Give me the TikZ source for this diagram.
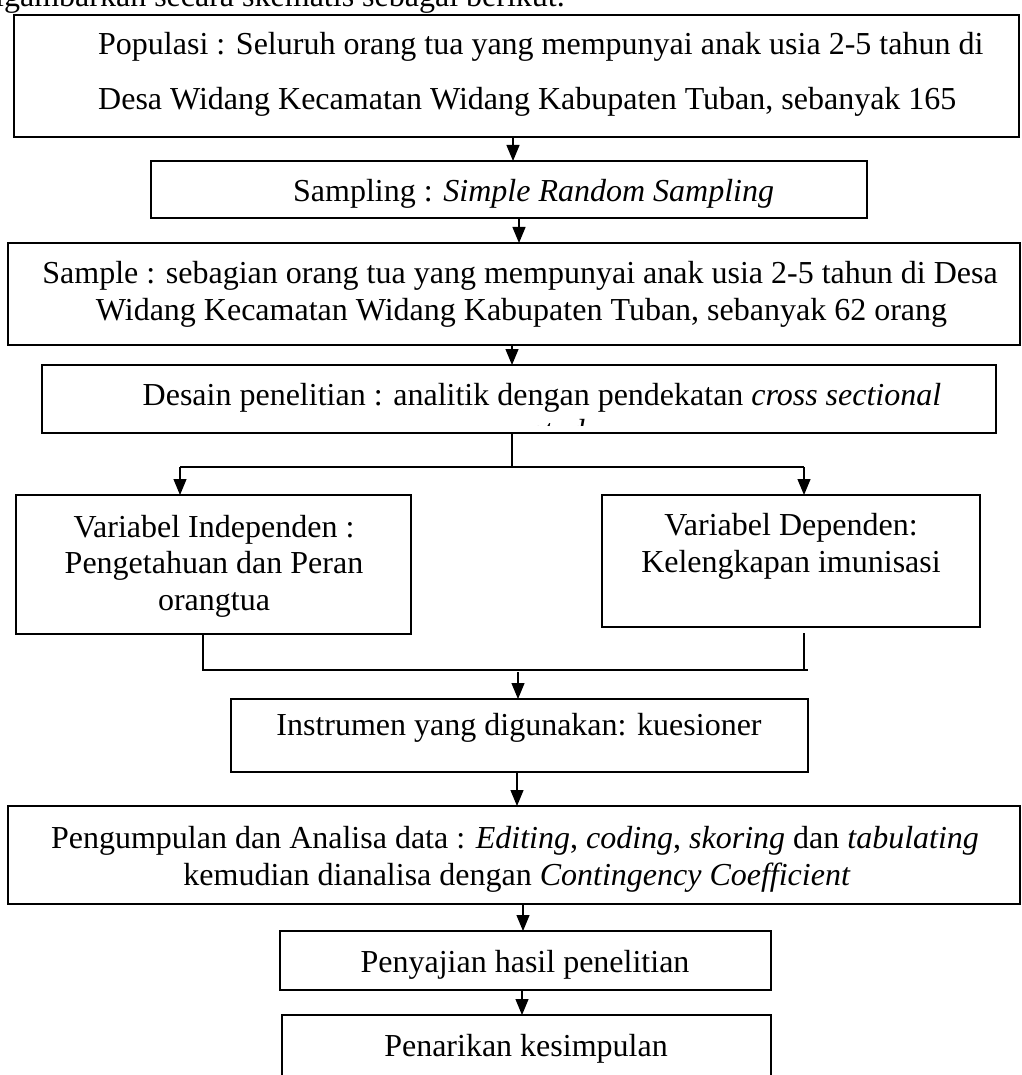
\documentclass[tikz,border=0pt]{standalone}
\usepackage{fontspec}
\setmainfont{Liberation Serif}
\usetikzlibrary{arrows.meta}
\begin{document}
\begin{tikzpicture}[x=1pt,y=-1pt,
  box/.style={draw, line width=1.3pt, rectangle, inner sep=0pt, outer sep=0pt, anchor=north west},
  txt/.style={inner sep=0pt, anchor=base, font=\fontsize{32}{38}\selectfont},
  conn/.style={line width=1.2pt},
  arr/.style={conn, -{Triangle[width=13pt,length=16pt]}}]
\useasboundingbox (0,0) rectangle (1021,1075);

% top running text (cut off by the page)
\begin{scope}
  \clip (0,0) rectangle (1021,13);
  \node[txt, anchor=base west] (intro) at (-21,7) {digambarkan secara skematis sebagai berikut.};
\end{scope}

% boxes
\node[box, minimum width=1005pt, minimum height=122pt] (pop) at (14,15) {};
\node[box, minimum width=716pt, minimum height=57pt] (smp) at (151,161) {};
\node[box, minimum width=1012pt, minimum height=102pt] (sam) at (8,243) {};
\node[box, minimum width=954pt, minimum height=68pt] (des) at (42,365) {};
\node[box, minimum width=395pt, minimum height=139pt] (ind) at (16,495) {};
\node[box, minimum width=378pt, minimum height=132pt] (dep) at (602,495) {};
\node[box, minimum width=577pt, minimum height=73pt] (ins) at (231,699) {};
\node[box, minimum width=1012pt, minimum height=98pt] (peng) at (8,806) {};
\node[box, minimum width=491pt, minimum height=59pt] (saji) at (280,931) {};
\node[box, minimum width=489pt, minimum height=80pt] (tarik) at (282,1015) {};

% texts
\node[txt, anchor=base west] (t1a) at (98,55) {Populasi : Seluruh orang tua yang mempunyai anak usia 2-5 tahun di};
\node[txt, anchor=base west] (t1b) at (98,110) {Desa Widang Kecamatan Widang Kabupaten Tuban, sebanyak 165};
\node[txt, anchor=base west] (t2) at (293,202) {Sampling : \textit{Simple Random Sampling}};
\node[txt] (t3a) at (520,283) {Sample : sebagian orang tua yang mempunyai anak usia 2-5 tahun di Desa};
\node[txt] (t3b) at (521.5,320) {Widang Kecamatan Widang Kabupaten Tuban, sebanyak 62 orang};
\node[txt] (t4a) at (542,405) {Desain penelitian : analitik dengan pendekatan \textit{cross sectional}};
\begin{scope}
  \clip (43,366) rectangle (995,425);
  \node[txt] (t4b) at (565,441) {\textit{study}};
\end{scope}
\node[txt] (t5a) at (214,537) {Variabel Independen :};
\node[txt] (t5b) at (214,573) {Pengetahuan dan Peran};
\node[txt] (t5c) at (214,610) {orangtua};
\node[txt] (t6a) at (791,535) {Variabel Dependen:};
\node[txt] (t6b) at (791,572) {Kelengkapan imunisasi};
\node[txt] (t7) at (519,735) {Instrumen yang digunakan: kuesioner};
\node[txt] (t8a) at (515,848) {Pengumpulan dan Analisa data : \textit{Editing}, \textit{coding}, \textit{skoring} dan \textit{tabulating}};
\node[txt] (t8b) at (517,885) {kemudian dianalisa dengan \textit{Contingency Coefficient}};
\node[txt] (t9) at (525,972) {Penyajian hasil penelitian};
\node[txt] (t10) at (526,1056) {Penarikan kesimpulan};

% connector x positions
\coordinate (x1) at (513,0);
\coordinate (x2) at (519,0);
\coordinate (x3) at (512,0);
\coordinate (xl) at (180,0);
\coordinate (xr) at (804,0);
\coordinate (yl) at (0,467);
\coordinate (xlb) at (203,0);
\coordinate (xrb) at (804,0);
\coordinate (ylb) at (0,670);
\coordinate (xrbe) at (808,0);
\coordinate (x4) at (518,0);
\coordinate (x5) at (517,0);
\coordinate (x6) at (523,0);
\coordinate (x7) at (522,0);

% connectors
\draw[arr] (pop.south -| x1) -- (smp.north -| x1);
\draw[arr] (smp.south -| x2) -- (sam.north -| x2);
\draw[arr] (sam.south -| x3) -- (des.north -| x3);
\draw[conn] (des.south -| x3) -- (yl -| x3);
\draw[conn] (yl -| xl) -- (yl -| xr);
\draw[arr] (yl -| xl) -- (ind.north -| xl);
\draw[arr] (yl -| xr) -- (dep.north -| xr);
\draw[conn] (ind.south -| xlb) -- (ylb -| xlb) -- (ylb -| xrbe);
\draw[conn] ([yshift=-6pt]dep.south -| xrb) -- (ylb -| xrb);
\draw[arr] ([yshift=-2pt]ylb -| x4) -- (ins.north -| x4);
\draw[arr] (ins.south -| x5) -- (peng.north -| x5);
\draw[arr] (peng.south -| x6) -- (saji.north -| x6);
\draw[arr] (saji.south -| x7) -- (tarik.north -| x7);
\end{tikzpicture}
\end{document}
